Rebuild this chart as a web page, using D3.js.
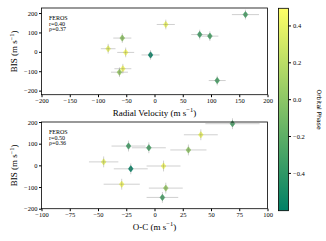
<!DOCTYPE html>
<html>
<head>
<meta charset="utf-8">
<script src="https://cdn.jsdelivr.net/npm/d3@7"></script>
<style>
  body { margin: 0; background: #fff; }
  svg text { font-family: "Liberation Serif", "DejaVu Serif", serif; fill: #000; }
  .tick line, .domain { stroke: #000; }
</style>
</head>
<body>
<div id="chart"></div>
<script>
const svgWidth = 326;
const svgHeight = 241;

// data (same 11 FEROS spectra in both panels)
const rv = [161, 20, 80, 98, -57, -82, -51, -7, -56, -62, 111];
const rvErr = [24, 16, 15, 15, 16, 13, 15, 16, 15, 15, 15];
const oc = [69, 41, -23, -5, 30, -45, 8, -21, -29, 10, 7];
const ocErr = [24, 15, 15, 15, 16, 13, 15, 15, 16, 15, 14];
const bis = [192, 141, 89, 81, 71, 16, -3, -16, -87, -105, -148];
const bisErr = [25, 25, 25, 25, 25, 25, 25, 25, 25, 25, 25];
const phase = [-0.3, 0.42, -0.33, -0.3, 0.02, 0.4, 0.45, -0.58, 0.45, 0.06, -0.3];

const rvTicks = [-200, -150, -100, -50, 0, 50, 100, 150, 200];
const ocTicks = [-100, -75, -50, -25, 0, 25, 50, 75, 100];
const bisTicks = [-200, -100, 0, 100, 200];
const phaseTicks = [-0.4, -0.2, 0.0, 0.2, 0.4];

const phaseMin = -0.605;
const phaseMax = 0.493;

const frameLeft = 41.5;
const frameRight = 267.5;

// summer colormap: linear from (0,0.5,0.4) to (1,1,0.4)
const color = d3.scaleLinear()
  .domain([phaseMin, phaseMax])
  .range(["#008066", "#ffff66"])
  .interpolate(d3.interpolateRgb);

const minus = s => s.replace("-", "\u2212");

const svg = d3.select("#chart")
  .append("svg")
  .attr("width", svgWidth)
  .attr("height", svgHeight);

function panel(opts) {
  const x = d3.scaleLinear().domain(opts.xDomain).range([frameLeft, frameRight]);
  const y = d3.scaleLinear().domain(opts.yDomain).range([opts.bottom, opts.top]);

  const g = svg.append("g");

  // x axis
  g.append("g")
    .attr("transform", `translate(0, ${opts.bottom})`)
    .call(d3.axisBottom(x).tickValues(opts.xTicks).tickSize(2.5).tickPadding(1.5)
      .tickFormat(d => minus(String(d))))
    .call(a => a.select(".domain").remove())
    .selectAll("text").attr("font-size", 6.5).attr("font-family", "Liberation Serif");

  // y axis
  g.append("g")
    .attr("transform", `translate(${frameLeft}, 0)`)
    .call(d3.axisLeft(y).tickValues(bisTicks).tickSize(2.5).tickPadding(1.5)
      .tickFormat(d => minus(String(d))))
    .call(a => a.select(".domain").remove())
    .selectAll("text").attr("font-size", 6.5).attr("font-family", "Liberation Serif");

  // markers
  const pts = d3.range(bis.length);
  g.selectAll("path.pt")
    .data(pts)
    .enter()
    .append("path")
    .attr("class", "pt")
    .attr("d", "M0,-3.2L2.4,0L0,3.2L-2.4,0Z")
    .attr("transform", i => `translate(${x(opts.xs[i])}, ${y(bis[i])})`)
    .attr("fill", i => color(phase[i]))
    .attr("stroke", i => color(phase[i]))
    .attr("stroke-width", 0.5);

  // error bars, semi-transparent grey on top
  const eb = g.append("g")
    .attr("stroke", "#808080")
    .attr("stroke-opacity", 0.37)
    .attr("stroke-width", 1);
  eb.selectAll("line.h")
    .data(pts)
    .enter()
    .append("line")
    .attr("x1", i => x(opts.xs[i] - opts.xErr[i]))
    .attr("x2", i => x(opts.xs[i] + opts.xErr[i]))
    .attr("y1", i => y(bis[i]))
    .attr("y2", i => y(bis[i]));
  eb.selectAll("line.v")
    .data(pts)
    .enter()
    .append("line")
    .attr("x1", i => x(opts.xs[i]))
    .attr("x2", i => x(opts.xs[i]))
    .attr("y1", i => y(bis[i] - bisErr[i]))
    .attr("y2", i => y(bis[i] + bisErr[i]));

  // frame
  g.append("rect")
    .attr("x", frameLeft)
    .attr("y", opts.top)
    .attr("width", frameRight - frameLeft)
    .attr("height", opts.bottom - opts.top)
    .attr("fill", "none")
    .attr("stroke", "#000")
    .attr("stroke-width", 0.8);

  // stats text, one line each
  opts.stats.forEach((s, k) => {
    g.append("text")
      .attr("x", 49)
      .attr("y", opts.top + 12 + k * 5.6)
      .attr("font-size", 6)
      .text(s);
  });

  // axis titles
  const xt = g.append("text")
    .attr("x", (frameLeft + frameRight) / 2)
    .attr("y", opts.bottom + 21)
    .attr("text-anchor", "middle")
    .attr("font-size", 9);
  xt.append("tspan").text(opts.xLabel + " (m s");
  xt.append("tspan").attr("dy", -3.5).attr("font-size", 6.5).text("\u22121");
  xt.append("tspan").attr("dy", 3.5).text(")");

  const yt = g.append("text")
    .attr("transform", `translate(17, ${(opts.top + opts.bottom) / 2}) rotate(-90)`)
    .attr("text-anchor", "middle")
    .attr("font-size", 9);
  yt.append("tspan").text("BIS (m s");
  yt.append("tspan").attr("dy", -3.5).attr("font-size", 6.5).text("\u22121");
  yt.append("tspan").attr("dy", 3.5).text(")");
}

panel({
  top: 8, bottom: 94.7,
  xDomain: [-200, 200], yDomain: [-221, 226],
  xTicks: rvTicks, xs: rv, xErr: rvErr,
  stats: ["FEROS", "r=0.40", "\u03c1=0.37"],
  xLabel: "Radial Velocity"
});

panel({
  top: 122, bottom: 208.7,
  xDomain: [-100, 100], yDomain: [-200, 200],
  xTicks: ocTicks, xs: oc, xErr: ocErr,
  stats: ["FEROS", "r=0.50", "\u03c1=0.36"],
  xLabel: "O-C"
});

// colorbar
const cbLeft = 278.5, cbRight = 288.5, cbTop = 8.3, cbBottom = 210.7;
const cy = d3.scaleLinear().domain([phaseMin, phaseMax]).range([cbBottom, cbTop]);

const grad = svg.append("defs").append("linearGradient")
  .attr("id", "cbgrad")
  .attr("x1", 0).attr("y1", 1).attr("x2", 0).attr("y2", 0);
grad.append("stop").attr("offset", "0%").attr("stop-color", color(phaseMin));
grad.append("stop").attr("offset", "100%").attr("stop-color", color(phaseMax));

svg.append("rect")
  .attr("x", cbLeft)
  .attr("y", cbTop)
  .attr("width", cbRight - cbLeft)
  .attr("height", cbBottom - cbTop)
  .attr("fill", "url(#cbgrad)")
  .attr("stroke", "#000")
  .attr("stroke-width", 0.8);

svg.append("g")
  .attr("transform", `translate(${cbRight}, 0)`)
  .call(d3.axisRight(cy).tickValues(phaseTicks).tickSize(2.5).tickPadding(2)
    .tickFormat(d => minus(d3.format(".1f")(d))))
  .call(a => a.select(".domain").remove())
  .selectAll("text").attr("font-size", 6.5).attr("font-family", "Liberation Serif");

svg.append("text")
  .attr("transform", `translate(317, ${(cbTop + cbBottom) / 2}) rotate(90)`)
  .attr("text-anchor", "middle")
  .attr("font-size", 6)
  .style("font-family", "DejaVu Sans")
  .text("Orbital Phase");
</script>
</body>
</html>
